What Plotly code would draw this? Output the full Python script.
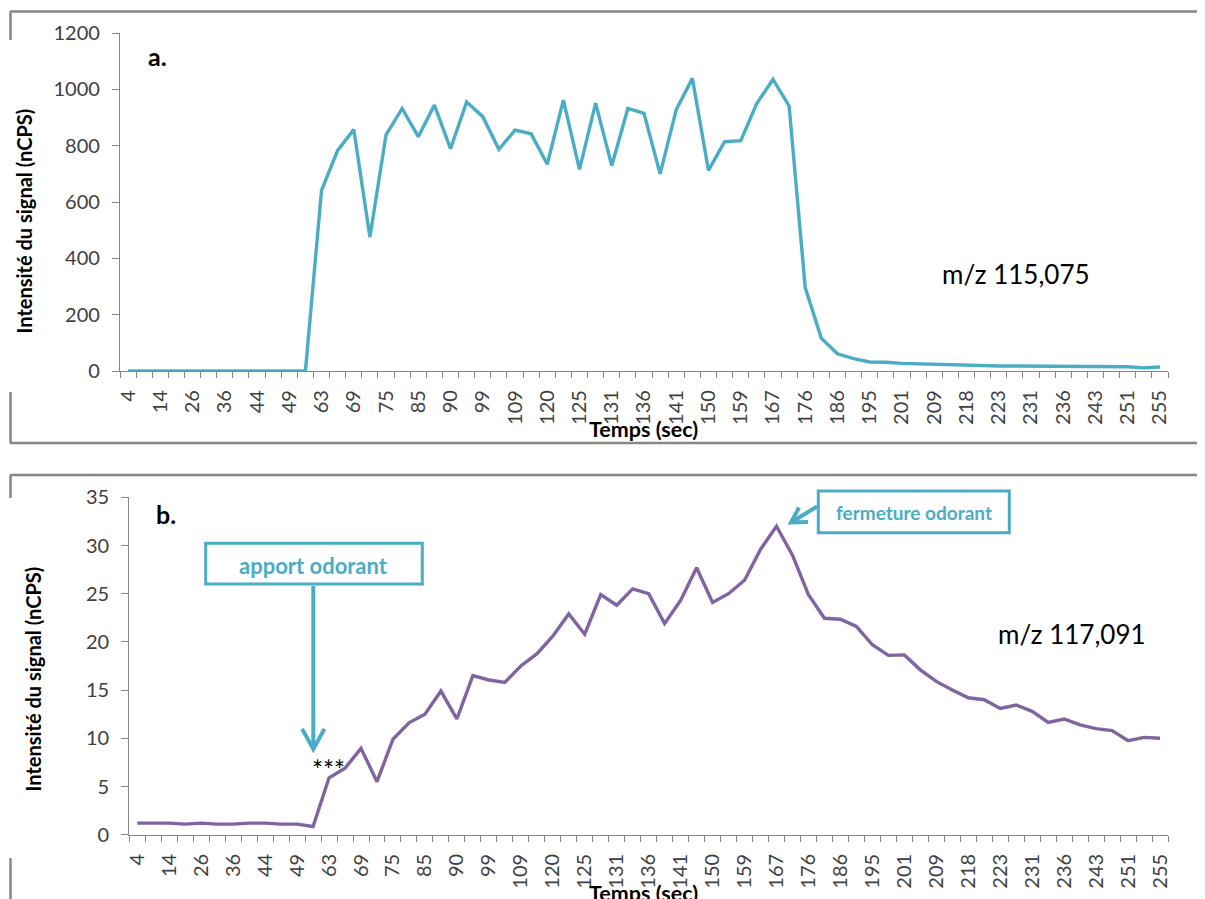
import math
import plotly.graph_objects as go

# ---------------- data ----------------
time_labels = ["4", "14", "26", "36", "44", "49", "63", "69", "75", "85", "90", "99",
               "109", "120", "125", "131", "136", "141", "150", "159", "167", "176",
               "186", "195", "201", "209", "218", "223", "231", "236", "243", "251", "255"]

signal_a = [0, 0, 0, 0, 0, 0, 0, 0, 0, 0, 0, 0,
            641, 783, 857, 476, 838, 932, 832, 944, 789, 955, 903, 787, 855, 842,
            734, 962, 716, 951, 729, 932, 915, 700, 928, 1039, 712, 814, 818, 950,
            1035, 941, 296, 116, 61, 44, 32, 31, 27, 25, 25, 22, 22, 18, 18, 18,
            18, 18, 15, 15, 15, 15, 15, 11, 14]

signal_b = [1.2, 1.2, 1.2, 1.1, 1.2, 1.1, 1.1, 1.2, 1.2, 1.1, 1.1, 0.85,
            5.9, 6.9, 8.96, 5.5, 9.9, 11.6, 12.5, 14.9, 12.0, 16.5, 16.05, 15.8,
            17.5, 18.75, 20.6, 22.9, 20.8, 24.9, 23.8, 25.5, 25.0, 21.9, 24.3,
            27.7, 24.1, 25.0, 26.4, 29.6, 32.0, 29.0, 24.9, 22.45, 22.35, 21.6,
            19.7, 18.6, 18.65, 17.1, 15.9, 15.0, 14.2, 14.0, 13.1, 13.45, 12.8,
            11.65, 12.0, 11.4, 11.0, 10.8, 9.75, 10.1, 10.0]

ticks_a = [0, 200, 400, 600, 800, 1000, 1200]
ticks_b = [0, 5, 10, 15, 20, 25, 30, 35]

# ---------------- layout helpers ----------------
W, H = 1205, 899
OFF = 8  # page body margin compensation
def px(x): return (x - OFF) / W
def py(y): return 1 - (y - OFF) / H

TEAL = "#4BACC6"
PURPLE = "#8064A2"
AXIS = "#868686"
TXT = "#404040"
FONT = "Lato"

sample = list(range(len(signal_a)))
tick_pos = [2 * i for i in range(len(time_labels))]

fig = go.Figure()
fig.add_trace(go.Scatter(x=sample, y=signal_a, mode="lines",
                         line=dict(color=TEAL, width=3.4),
                         xaxis="x", yaxis="y", showlegend=False, hoverinfo="skip"))
fig.add_trace(go.Scatter(x=sample, y=signal_b, mode="lines",
                         line=dict(color=PURPLE, width=3.4),
                         xaxis="x2", yaxis="y2", showlegend=False, hoverinfo="skip"))

def xaxis_style(domain, anchor):
    return dict(domain=domain, anchor=anchor, range=[-0.5, len(sample) - 0.5],
                automargin=False,
                tickmode="array", tickvals=tick_pos, ticktext=time_labels,
                tickangle=-90, ticks="", showline=True, linecolor=AXIS, linewidth=1.3,
                showgrid=False, zeroline=False, ticklabelstandoff=10,
                tickfont=dict(family=FONT, size=20, color=TXT),
                minor=dict(ticks="outside", tick0=-0.5, dtick=1, ticklen=6,
                           tickcolor=AXIS, tickwidth=1.2, showgrid=False))

def yaxis_style(domain, anchor, rng, tv):
    return dict(domain=domain, anchor=anchor, range=rng, tickmode="array",
                automargin=False,
                tickvals=tv, ticktext=[str(v) for v in tv],
                ticks="outside", ticklen=7, tickcolor=AXIS, tickwidth=1.2,
                showline=True, linecolor=AXIS, linewidth=1.3, showgrid=False,
                zeroline=False, ticklabelstandoff=8,
                tickfont=dict(family=FONT, size=20, color=TXT))

fig.update_layout(
    template="none",
    width=W, height=H, margin=dict(l=0, r=0, t=0, b=0, pad=0), autosize=False,
    paper_bgcolor="white", plot_bgcolor="white",
    xaxis=xaxis_style([px(120), px(1168)], "y"),
    yaxis=yaxis_style([py(371), py(33)], "x", [0, 1200], ticks_a),
    xaxis2=xaxis_style([px(129.3), px(1168)], "y2"),
    yaxis2=yaxis_style([py(834.7), py(497.3)], "x2", [0, 35], ticks_b),
)

shapes = []
def seg(x0, y0, x1, y1, color=AXIS, width=2.5):
    shapes.append(dict(type="line", xref="paper", yref="paper",
                       x0=px(x0), y0=py(y0), x1=px(x1), y1=py(y1),
                       line=dict(color=color, width=width)))

# outer frames (partially visible)
seg(10, 11.5, 1205, 11.5); seg(10.5, 11.5, 10.5, 40); seg(10.5, 392, 10.5, 443); seg(10, 443, 1205, 443)
seg(10, 475, 1205, 475); seg(10.5, 475, 10.5, 498); seg(10.5, 858, 10.5, 906)

# annotation boxes
def box(x0, y0, x1, y1):
    shapes.append(dict(type="rect", xref="paper", yref="paper",
                       x0=px(x0), y0=py(y1), x1=px(x1), y1=py(y0),
                       line=dict(color=TEAL, width=3), fillcolor="white"))
box(205.7, 543.3, 422.3, 584)
box(818.3, 491, 1009.3, 532.7)

def arrow(tx, ty, fx, fy, arm, half_angle, width):
    seg(fx, fy, tx, ty, TEAL, width)
    dx, dy = fx - tx, fy - ty
    L = math.hypot(dx, dy)
    ux, uy = dx / L, dy / L
    a = math.radians(half_angle)
    pts = []
    for s in (1, -1):
        c, sn = math.cos(s * a), math.sin(s * a)
        pts.append((tx + arm * (ux * c - uy * sn), ty + arm * (ux * sn + uy * c)))
    path = "M {} {} L {} {} L {} {}".format(px(pts[0][0]), py(pts[0][1]), px(tx), py(ty),
                                           px(pts[1][0]), py(pts[1][1]))
    shapes.append(dict(type="path", xref="paper", yref="paper", path=path,
                       line=dict(color=TEAL, width=width)))

arrow(313.3, 749, 313.3, 586, 23, 29, 4)
arrow(791, 522.5, 817, 506.5, 17, 30, 4)

fig.update_layout(shapes=shapes)

anns = []
def txt(x, y, s, size, color="black", bold=False, angle=0):
    anns.append(dict(x=px(x), y=py(y), xref="paper", yref="paper", text=s,
                     showarrow=False, textangle=angle, xanchor="center", yanchor="middle",
                     font=dict(family=FONT, size=size, color=color,
                               weight="bold" if bold else "normal")))

txt(643, 429, "Temps (sec)", 21.5, bold=True)
txt(643, 893, "Temps (sec)", 21.5, bold=True)
txt(23.5, 221, "Intensité du signal (nCPS)", 20, bold=True, angle=-90)
txt(32.5, 679, "Intensité du signal (nCPS)", 20, bold=True, angle=-90)
txt(157, 56, "a.", 25, bold=True)
txt(166, 514, "b.", 25, bold=True)
txt(1016, 274, "m/z 115,075", 26)
txt(1072, 634, "m/z 117,091", 26)
txt(313, 565, "apport odorant", 22, color=TEAL, bold=True)
txt(913.5, 512, "fermeture odorant", 19, color=TEAL, bold=True)
txt(328, 770, "***", 26)
fig.update_layout(annotations=anns)

fig.write_html("out.html")
